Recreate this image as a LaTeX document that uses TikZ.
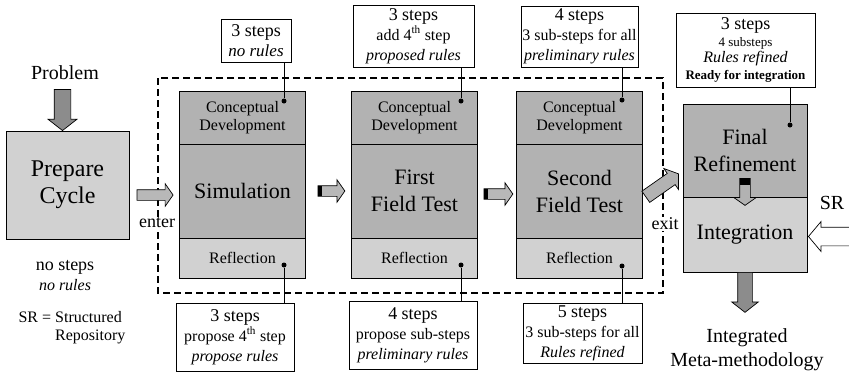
\documentclass[tikz,border=0pt]{standalone}
\usepackage{fontspec}
\setmainfont{Liberation Serif}
\usetikzlibrary{positioning,shapes.arrows}

\definecolor{darkfill}{gray}{0.70}
\definecolor{lightfill}{gray}{0.82}
\definecolor{arrowfill}{gray}{0.55}
\definecolor{hfill}{gray}{0.72}

\newcommand{\prepsz}{\fontsize{24}{27}\selectfont}
\newcommand{\bigsz}{\fontsize{22}{27}\selectfont}
\newcommand{\labsz}{\fontsize{20}{24}\selectfont}
\newcommand{\stepsz}{\fontsize{18}{20}\selectfont}
\newcommand{\notesz}{\fontsize{16}{18}\selectfont}
\newcommand{\subsz}{\fontsize{13}{16}\selectfont}

\tikzset{
  column/.style={draw, line width=0.8pt, inner sep=0pt, outer sep=0pt,
    minimum width=126pt, align=center},
  cdpart/.style={column, fill=darkfill, minimum height=53pt, font=\notesz},
  mainpart/.style={column, fill=darkfill, minimum height=94pt, font=\bigsz},
  reflpart/.style={column, fill=lightfill, minimum height=40pt, font=\notesz},
  stagebox/.style={draw, line width=0.8pt, inner sep=0pt, outer sep=0pt,
    minimum width=124pt, align=center, font=\bigsz},
  notebox/.style={draw, line width=0.8pt, fill=white, inner sep=1pt,
    align=center, font=\stepsz},
  blob/.style={circle, fill=black, inner sep=0pt, minimum size=5pt},
  stem/.style={line width=0.9pt},
  cycleframe/.style={line width=1.2pt, dash pattern=on 7pt off 4pt},
  gaplabel/.style={fill=white, inner sep=1pt, font=\stepsz},
  hblock/.style={single arrow, draw, line width=0.7pt, fill=hfill,
    inner xsep=0pt, inner ysep=5pt, single arrow head extend=6pt,
    single arrow tip angle=110},
  vblock/.style={hblock, rotate=-90, fill=arrowfill, inner ysep=8pt,
    single arrow tip angle=104},
}

\begin{document}
\begin{tikzpicture}[x=1pt,y=-1pt]
  \useasboundingbox (0,0) rectangle (849,373);

  % prepare cycle
  \node[font=\labsz] (problem) at (65,73) {Problem};
  \node[stagebox, fill=lightfill, minimum width=123pt, minimum height=108pt,
    font=\prepsz] (prep) at (67.5,185) {Prepare\\Cycle};
  \node[vblock, anchor=tip, minimum height=41pt] (probarrow)
    at ([xshift=-5pt]prep.north) {};
  \node[font=\stepsz] (nosteps) at (65,267) {no steps};
  \node[font=\notesz\itshape] (norules) at (65,285) {no rules};
  \node[font=\notesz, align=left] (srnote) at (72,328)
    {SR = Structured\\\phantom{SR = }Repository};

  % the three test stages
  \draw[cycleframe] (158,78) rectangle (663,293);

  \node[mainpart] (simmain) at (242.5,191) {Simulation};
  \node[cdpart, above=0pt of simmain] (simcd) {Conceptual\\Development};
  \node[reflpart, below=0pt of simmain] (simrefl) {Reflection};

  \node[mainpart] (firstmain) at (414.5,191) {First\\Field Test};
  \node[cdpart, above=0pt of firstmain] (firstcd) {Conceptual\\Development};
  \node[reflpart, below=0pt of firstmain] (firstrefl) {Reflection};

  \node[mainpart] (secmain) at (579.5,191) {Second\\Field Test};
  \node[cdpart, above=0pt of secmain] (seccd) {Conceptual\\Development};
  \node[reflpart, below=0pt of secmain] (secrefl) {Reflection};

  % final stage
  \node[stagebox, fill=darkfill, minimum height=93pt] (final)
    at (745,150.5) {Final\\Refinement};
  \node[stagebox, fill=lightfill, minimum height=75pt, below=0pt of final]
    (integ) {Integration};

  % block arrows
  \node[hblock, anchor=tip, minimum height=36pt] (enterarrow)
    at ([xshift=-6pt,yshift=-4pt]simmain.west) {};
  \node[gaplabel] (enter) at (157,223) {enter};

  \node[hblock, anchor=tail, minimum height=27pt] (simfirst)
    at ([xshift=12pt]simmain.east) {};
  \fill (simfirst.tail) ++(0,-5) rectangle ++(4,10);
  \node[hblock, anchor=tail, minimum height=29pt] (firstsec)
    at ([xshift=6pt,yshift=-3pt]firstmain.east) {};
  \fill (firstsec.tail) ++(0,-5) rectangle ++(4,10);

  \node[hblock, anchor=tail, rotate=35, minimum height=40pt, inner ysep=6.5pt,
    fill=gray!60] (exitarrow) at ([xshift=3pt,yshift=-6pt]secmain.east) {};
  \node[gaplabel] (exit) at (665,224) {exit};

  \node[hblock, rotate=-90, anchor=tail, minimum height=27pt, fill=gray!60]
    (finarrow) at ([yshift=19pt]final.south) {};
  \fill ([xshift=-5pt]finarrow.tail) rectangle ([xshift=5pt,yshift=-7pt]finarrow.tail);

  \node[vblock, anchor=tail, minimum height=40pt, inner ysep=7pt] (outarrow)
    at (integ.south) {};
  \node[font=\labsz, align=center] (result) at (747,350)
    {Integrated\\Meta-methodology};

  \node[hblock, rotate=180, anchor=tip, minimum height=50pt, fill=white,
    inner ysep=9pt, single arrow head extend=5.5pt, single arrow tip angle=100]
    (srarrow) at ([xshift=1pt,yshift=-2pt]integ.east) {};
  \node[font=\labsz] (sr) at (832,203) {SR};

  % dots and notes
  \node[blob] (simdot) at (284,101) {};
  \node[blob] (simrdot) at (284,265) {};
  \node[blob] (firstdot) at (461,101) {};
  \node[blob] (firstrdot) at (461,265) {};
  \node[blob] (secdot) at (622,100) {};
  \node[blob] (secrdot) at (622,266) {};
  \node[blob] (findot) at (790,125) {};

  \node[notebox, minimum width=70pt, minimum height=43pt] (simtop)
    at (256,40.5) {3 steps\\{\fontsize{17}{19}\selectfont\itshape no rules}};
  \node[notebox, minimum width=121pt, minimum height=62pt] (firsttop)
    at (413.5,36) {3 steps\\{\notesz add 4\textsuperscript{th} step}\\
    {\notesz\itshape proposed rules}};
  \node[notebox, minimum width=117pt, minimum height=61pt] (sectop)
    at (579.5,36.5) {4 steps\\{\notesz 3 sub-steps for all}\\
    {\notesz\itshape preliminary rules}};
  \node[notebox, minimum width=139pt, minimum height=74pt,
    font=\fontsize{18}{16.5}\selectfont] (fintop) at (745.5,50)
    {3 steps\\{\subsz 4 substeps}\\{\notesz\itshape Rules refined}\\
    {\subsz\bfseries Ready for integration}};

  \node[notebox, minimum width=118pt, minimum height=68pt] (simbot)
    at (235,337) {3 steps\\{\notesz propose 4\textsuperscript{th} step}\\
    {\notesz\itshape propose rules}};
  \node[notebox, minimum width=128pt, minimum height=68pt] (firstbot)
    at (413,335) {4 steps\\{\notesz propose sub-steps}\\
    {\notesz\itshape preliminary rules}};
  \node[notebox, minimum width=119pt, minimum height=60pt] (secbot)
    at (582.5,333) {5 steps\\{\notesz 3 sub-steps for all}\\
    {\notesz\itshape Rules refined}};

  \draw[stem] (simdot) -- (simdot |- simtop.south);
  \draw[stem] (firstdot) -- (firstdot |- firsttop.south);
  \draw[stem] (secdot) -- (secdot |- sectop.south);
  \draw[stem] (findot) -- (findot |- fintop.south);
  \draw[stem] (simrdot) -- (simrdot |- simbot.north);
  \draw[stem] (firstrdot) -- (firstrdot |- firstbot.north);
  \draw[stem] (secrdot) -- (secrdot |- secbot.north);
\end{tikzpicture}
\end{document}
